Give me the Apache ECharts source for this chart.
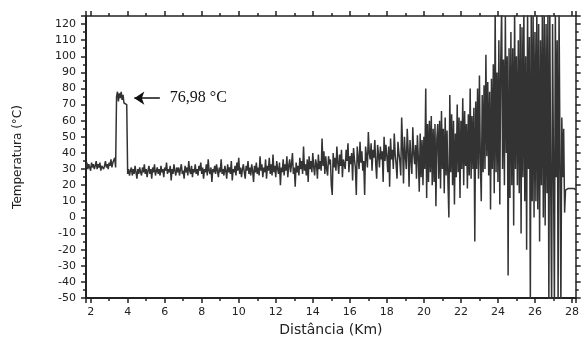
<!DOCTYPE html>
<html>
<head>
<meta charset="utf-8">
<script src="https://cdn.jsdelivr.net/npm/echarts@6/dist/echarts.min.js"></script>
<style>
html,body{margin:0;padding:0;background:#fff;}
#chart{width:582px;height:342px;}
</style>
</head>
<body>
<div id="chart"></div>
<script>
// Sampling of the distance axis (km): one reading every 0.05 km from 1.75 km
const distStart = 1.75;
const distStep = 0.05;

// Temperature readings (°C); each row holds 1 km (20 readings)
const temperature = [
  31,34,30,33,32,29,34,31,33,30,32,35,30,33,31,34,29,32,33,30,
  32,35,31,33,30,34,32,36,31,34,33,37,31,75,78,72,77,74,78,73,
  76,71,70,70,70,27,30,26,29,31,26,30,27,32,28,24,30,27,31,28,
  26,31,28,33,27,30,25,29,32,27,30,24,31,28,33,26,29,31,27,30,
  26,32,28,30,25,31,29,34,27,30,28,32,23,30,27,33,29,26,31,28,
  31,26,30,33,27,29,24,32,28,31,26,35,29,27,32,25,30,28,33,27,
  30,26,32,29,34,27,31,24,30,28,33,26,36,29,27,31,22,30,28,32,
  27,33,29,25,31,28,36,27,30,26,32,29,24,33,28,31,27,35,23,30,
  28,32,26,34,29,37,27,31,25,30,33,28,24,32,29,35,27,31,26,33,
  29,22,32,28,34,27,31,26,38,29,33,25,31,28,36,24,32,29,37,27,
  33,26,39,28,32,25,35,30,27,34,20,31,28,36,26,33,29,38,25,32,
  36,28,33,40,27,31,19,34,28,32,26,37,30,35,27,44,29,33,26,36,
  22,38,30,35,28,40,31,26,36,33,24,39,30,35,29,49,32,41,27,38,
  30,26,38,33,36,20,14,40,31,37,29,44,34,27,39,32,42,25,36,33,
  30,42,35,46,28,38,33,40,23,43,36,31,14,44,37,30,47,34,41,29,
  35,14,44,38,31,53,40,36,46,29,42,37,48,33,24,45,39,31,44,36,
  41,22,50,35,45,38,28,44,19,49,36,42,30,52,39,33,24,47,40,35,
  26,62,44,21,50,38,30,55,42,19,48,36,27,56,40,33,45,24,51,37,
  16,52,25,48,20,50,30,80,12,58,22,60,28,63,20,55,22,58,7,49,
  58,24,60,18,66,30,55,15,62,26,54,22,0,76,28,64,20,60,8,52,
  25,70,28,62,12,60,30,74,20,66,32,58,18,64,26,80,24,63,30,68,
  -15,72,30,80,24,88,34,10,76,28,82,30,101,38,84,26,78,5,86,30,
  95,15,130,28,90,22,110,8,96,130,30,98,20,125,40,100,-36,105,12,115,
  20,105,-5,130,30,100,20,110,15,120,-10,118,25,130,10,100,-20,130,30,112,
  -55,130,10,125,0,115,10,130,5,120,-15,110,20,130,0,125,-5,120,15,130,
  -55,130,20,-55,120,30,-55,130,25,110,-55,130,40,-55,62,25,55,3,17,17,
  17,18,17,17,18,17,17,18,17,17
];

// Tick labels
const xTickLabels = [2,4,6,8,10,12,14,16,18,20,22,24,26,28];
const yTickLabels = [-50,-40,-30,-20,-10,0,10,20,30,40,50,60,70,80,90,100,110,120];

// Axis ranges
const xRange = [1.75, 28.2];
const yRange = [-50, 125];

// Annotation
const peakText = '76,98 °C';
const arrowTail = [5.74, 74];
const arrowHead = [4.36, 74];

const seriesData = temperature.map((t, i) => [+(distStart + i * distStep).toFixed(2), t]);

const axisColor = '#222';
const labelFont = { fontFamily: 'DejaVu Sans', fontSize: 11, color: '#222' };

function xAxisDef(pos, major, showLabel) {
  return {
    type: 'value', position: pos, min: xRange[0], max: xRange[1],
    splitNumber: major ? 13 : 26,
    axisLine: { show: major, onZero: false, lineStyle: { color: axisColor, width: pos === 'bottom' ? 2 : 1.5 } },
    axisTick: { show: true, length: major ? 5 : 3, lineStyle: { color: axisColor, width: 1.5 } },
    axisLabel: showLabel ? Object.assign({
      margin: 9,
      formatter: v => xTickLabels.some(t => Math.abs(t - v) < 1e-6) ? String(Math.round(v)) : ''
    }, labelFont) : { show: false },
    splitLine: { show: false },
    name: showLabel ? 'Distância (Km)' : '',
    nameLocation: 'middle', nameGap: 25,
    nameTextStyle: { fontFamily: 'DejaVu Sans', fontSize: 14, color: '#222' }
  };
}
function yAxisDef(pos, major, showLabel) {
  return {
    type: 'value', position: pos, min: yRange[0], max: yRange[1],
    interval: major ? 10 : 5,
    axisLine: { show: major, onZero: false, lineStyle: { color: axisColor, width: pos === 'left' ? 2 : 1.5 } },
    axisTick: { show: true, length: major ? 5 : 3, lineStyle: { color: axisColor, width: 1.5 } },
    axisLabel: showLabel ? Object.assign({
      margin: 10,
      formatter: v => yTickLabels.some(t => Math.abs(t - v) < 1e-6) ? String(Math.round(v)) : ''
    }, labelFont) : { show: false },
    splitLine: { show: false },
    name: showLabel ? 'Temperatura (°C)' : '',
    nameLocation: 'middle', nameGap: 62,
    nameTextStyle: { fontFamily: 'DejaVu Sans', fontSize: 12, color: '#222' }
  };
}

const chart = echarts.init(document.getElementById('chart'), null, { renderer: 'canvas' });
chart.setOption({
  animation: false,
  backgroundColor: '#fff',
  grid: { left: 86, right: 6, top: 16, bottom: 44, containLabel: false },
  xAxis: [
    xAxisDef('bottom', true, true),
    xAxisDef('bottom', false, false),
    xAxisDef('top', true, false),
    xAxisDef('top', false, false)
  ],
  yAxis: [
    yAxisDef('left', true, true),
    yAxisDef('left', false, false),
    yAxisDef('right', true, false),
    yAxisDef('right', false, false)
  ],
  series: [{
    type: 'line',
    xAxisIndex: 0, yAxisIndex: 0,
    data: seriesData,
    showSymbol: false, symbol: 'none',
    clip: true,
    silent: true,
    lineStyle: { color: '#333', width: 1.5 },
    markLine: {
      silent: true,
      animation: false,
      symbol: ['none', 'arrow'],
      symbolSize: 10,
      lineStyle: { color: '#111', width: 1.5, type: 'solid' },
      label: {
        show: true, position: 'start', distance: 10,
        formatter: peakText,
        fontFamily: 'Liberation Serif', fontSize: 16, color: '#111'
      },
      data: [[{ coord: arrowTail }, { coord: arrowHead }]]
    }
  }]
});
</script>
</body>
</html>
